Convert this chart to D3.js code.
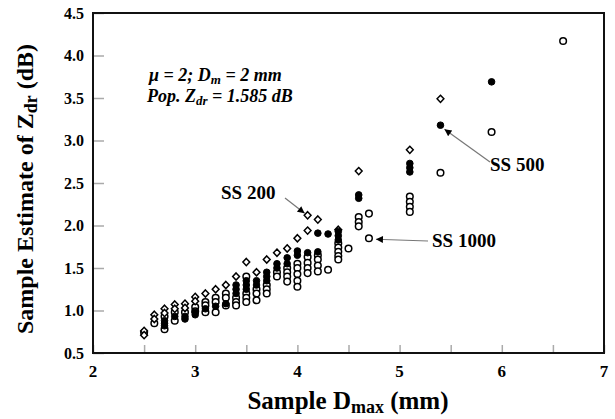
<!DOCTYPE html>
<html><head><meta charset="utf-8">
<script src="https://cdn.jsdelivr.net/npm/d3@7"></script>
<style>
body{margin:0;background:#fff;}
text{font-family:"Liberation Serif","Times New Roman",serif;font-weight:bold;}
</style></head>
<body><svg id="c" width="615" height="419"></svg>
<script>
const xTicks = [2,3,4,5,6,7];
const yTicks = [0.5,1.0,1.5,2.0,2.5,3.0,3.5,4.0,4.5];
// SS 200 (open diamonds)
const ss200 = [[2.5,0.76],[2.5,0.71],[2.6,0.95],[2.6,0.90],[2.7,1.02],[2.7,0.97],[2.8,1.07],[2.8,1.02],[2.9,1.08],[2.9,1.03],[3.0,1.16],[3.0,1.11],[3.1,1.20],[3.2,1.25],[3.3,1.30],[3.4,1.40],[3.5,1.57],[3.6,1.45],[3.7,1.60],[3.8,1.68],[3.9,1.73],[4.0,1.85],[4.1,2.12],[4.1,1.94],[4.2,2.07],[4.4,1.95],[4.6,2.64],[5.1,2.89],[5.4,3.49]];
// SS 500 (filled circles)
const ss500 = [[2.7,0.88],[2.7,0.85],[2.7,0.82],[2.8,0.93],[2.9,0.93],[2.9,0.90],[3.0,0.98],[3.0,0.95],[3.1,1.02],[3.2,1.05],[3.3,1.08],[3.4,1.20],[3.4,1.25],[3.4,1.30],[3.5,1.25],[3.5,1.30],[3.5,1.35],[3.6,1.30],[3.6,1.35],[3.7,1.40],[3.7,1.45],[3.7,1.35],[3.8,1.50],[3.8,1.55],[3.9,1.55],[3.9,1.62],[4.0,1.70],[4.0,1.65],[4.1,1.68],[4.2,1.91],[4.2,1.69],[4.3,1.90],[4.4,1.93],[4.4,1.88],[4.4,1.83],[4.6,2.36],[4.6,2.32],[5.1,2.73],[5.1,2.68],[5.1,2.63],[5.4,3.18],[5.9,3.69]];
// SS 1000 (open circles)
const ss1000 = [[2.5,0.74],[2.6,0.85],[2.7,0.78],[2.7,0.93],[2.8,0.88],[2.8,0.98],[2.9,0.98],[3.0,1.04],[3.0,0.99],[3.1,1.10],[3.1,1.06],[3.1,0.98],[3.2,1.15],[3.2,1.10],[3.2,0.98],[3.3,1.20],[3.3,1.15],[3.3,1.06],[3.4,1.15],[3.4,1.10],[3.4,1.06],[3.5,1.40],[3.5,1.20],[3.5,1.15],[3.5,1.10],[3.6,1.25],[3.6,1.20],[3.6,1.12],[3.7,1.30],[3.7,1.25],[3.7,1.20],[3.8,1.45],[3.8,1.40],[3.9,1.50],[3.9,1.45],[3.9,1.40],[3.9,1.34],[4.0,1.55],[4.0,1.50],[4.0,1.43],[4.0,1.35],[4.0,1.28],[4.1,1.63],[4.1,1.56],[4.1,1.50],[4.1,1.44],[4.2,1.65],[4.2,1.60],[4.2,1.53],[4.2,1.46],[4.3,1.48],[4.4,1.79],[4.4,1.74],[4.4,1.69],[4.4,1.64],[4.4,1.60],[4.5,1.73],[4.6,2.10],[4.6,2.04],[4.6,1.99],[4.7,2.14],[4.7,1.85],[5.1,2.34],[5.1,2.28],[5.1,2.22],[5.1,2.16],[5.4,2.62],[5.9,3.10],[6.6,4.17]];
// annotations: label text, target data point
const labels = [
  {t:"SS 200", px:4.1, py:2.12, tx:221, ty:199, ax:285, ay:198, dx:-3, dy:-2},
  {t:"SS 1000", px:4.7, py:1.85, tx:432, ty:247, ax:428, ay:241, dx:7, dy:1},
  {t:"SS 500", px:5.4, py:3.18, tx:490, ty:171, ax:490, ay:162, dx:4, dy:4}
];

const svg = d3.select("#c");
const L=93, R=604, T=13, B=353;
const x = d3.scaleLinear().domain([2,7]).range([L,R]);
const y = d3.scaleLinear().domain([0.5,4.5]).range([B,T]);

svg.append("defs").append("marker").attr("id","ah").attr("viewBox","0 0 10 10")
  .attr("refX",10).attr("refY",5).attr("markerWidth",14).attr("markerHeight",7)
  .attr("markerUnits","userSpaceOnUse").attr("orient","auto")
  .append("path").attr("d","M0,0 L10,5 L0,10 Z").attr("fill","#000");

// x axis (inward ticks)
const xa = svg.append("g").attr("transform",`translate(0,${B})`)
  .call(d3.axisTop(x).tickValues(d3.range(2,7.01,0.5)).tickSize(8).tickFormat(""));
xa.select(".domain").remove();
xa.selectAll("line").attr("stroke","#aaa").attr("stroke-width",1.5);
svg.append("g").selectAll("text").data(xTicks).join("text")
  .attr("x",d=>x(d)).attr("y",377).attr("text-anchor","middle")
  .attr("font-size",17).text(d=>d);

const ya = svg.append("g").attr("transform",`translate(${L},0)`)
  .call(d3.axisRight(y).tickValues(yTicks).tickSize(11).tickFormat(""));
ya.select(".domain").remove();
ya.selectAll("line").attr("stroke","#aaa").attr("stroke-width",1.5);
svg.append("g").selectAll("text").data(yTicks).join("text")
  .attr("x",84).attr("y",d=>y(d)+5.5).attr("text-anchor","end")
  .attr("font-size",16).text(d=>d.toFixed(1));

svg.append("rect").attr("x",L).attr("y",T).attr("width",R-L).attr("height",B-T)
  .attr("fill","none").attr("stroke","#111").attr("stroke-width",2);

// points
const pts = svg.append("g");
pts.selectAll(".c1000").data(ss1000).join("circle")
  .attr("cx",d=>x(d[0])).attr("cy",d=>y(d[1])).attr("r",3.3)
  .attr("fill","#fff").attr("stroke","#000").attr("stroke-width",1.5);
pts.selectAll(".d200").data(ss200).join("path")
  .attr("transform",d=>`translate(${x(d[0])},${y(d[1])})`)
  .attr("d","M0,-3.6 L3.4,0 L0,3.6 L-3.4,0 Z")
  .attr("fill","#fff").attr("stroke","#000").attr("stroke-width",1.5);
pts.selectAll(".f500").data(ss500).join("circle")
  .attr("cx",d=>x(d[0])).attr("cy",d=>y(d[1])).attr("r",3.3)
  .attr("fill","#000").attr("stroke","#000").attr("stroke-width",1);

// annotations
labels.forEach(l=>{
  svg.append("line").attr("x1",l.ax).attr("y1",l.ay)
    .attr("x2",x(l.px)+l.dx).attr("y2",y(l.py)+l.dy)
    .attr("stroke","#777").attr("stroke-width",1.2).attr("marker-end","url(#ah)");
  svg.append("text").attr("x",l.tx).attr("y",l.ty).attr("font-size",19).text(l.t);
});

// info text
const info = svg.append("g").attr("font-style","italic").attr("font-size",18);
const t1 = info.append("text").attr("x",149).attr("y",81);
t1.append("tspan").text("\u03bc = 2; D");
t1.append("tspan").attr("font-size",13).attr("dy",3).text("m");
t1.append("tspan").attr("dy",-3).text(" = 2 mm");
const t2 = info.append("text").attr("x",147).attr("y",102);
t2.append("tspan").text("Pop. Z");
t2.append("tspan").attr("font-size",13).attr("dy",3).text("dr");
t2.append("tspan").attr("dy",-3).text(" = 1.585 dB");

// axis titles
const xt = svg.append("text").attr("x",348).attr("y",409).attr("text-anchor","middle").attr("font-size",25);
xt.append("tspan").text("Sample D");
xt.append("tspan").attr("font-size",18).attr("dy",4).text("max");
xt.append("tspan").attr("dy",-4).text(" (mm)");
const yt = svg.append("text").attr("transform","translate(33,189) rotate(-90)").attr("text-anchor","middle").attr("font-size",24);
yt.append("tspan").text("Sample Estimate of Z");
yt.append("tspan").attr("font-size",18).attr("dy",4).text("dr");
yt.append("tspan").attr("dy",-4).text(" (dB)");
</script></body></html>
